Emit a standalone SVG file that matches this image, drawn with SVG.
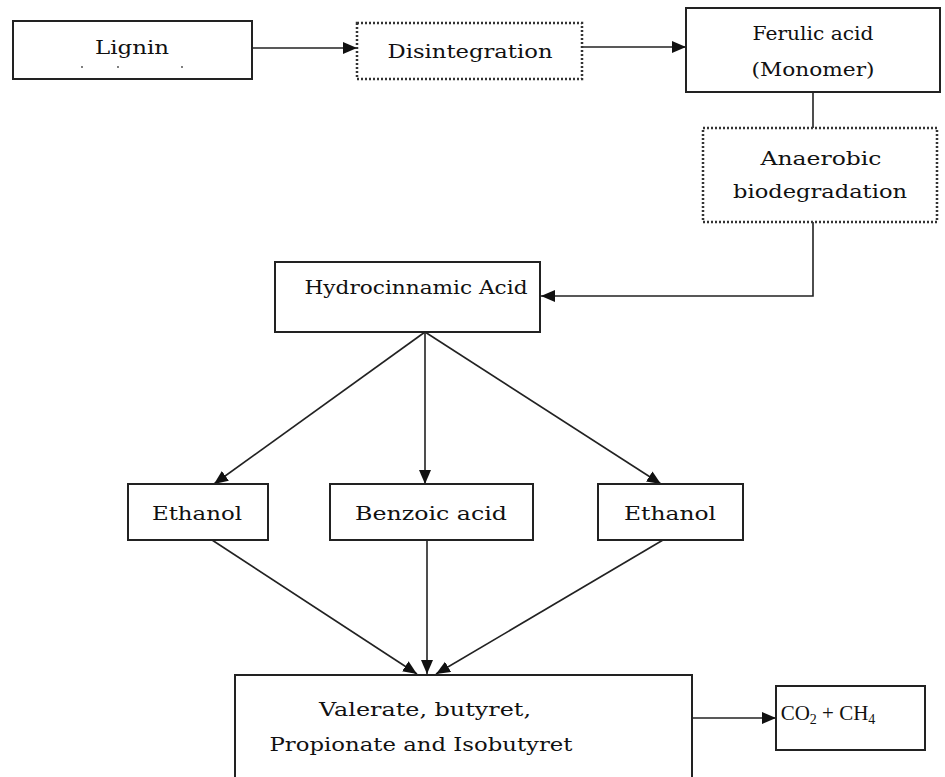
<svg xmlns="http://www.w3.org/2000/svg" width="945" height="777" viewBox="0 0 945 777">
<defs>
<marker id="ah" markerUnits="userSpaceOnUse" markerWidth="15" markerHeight="13" refX="14" refY="6" orient="auto">
<path d="M0,0 L14,6 L0,12 z" fill="#111"/>
</marker>
<style>
.box{fill:#fff;stroke:#222;stroke-width:2}
.dot{fill:#fff;stroke:#333;stroke-width:2.5;stroke-dasharray:2 2}
.t{font-family:"DejaVu Serif","Liberation Serif",serif;font-size:19px;fill:#111;text-anchor:middle}
.c{fill:none;stroke:#222;stroke-width:1.6}
</style>
</defs>
<rect width="945" height="777" fill="#fff"/>
<g id="connectors">
<line class="c" x1="252" y1="48" x2="357" y2="48" marker-end="url(#ah)"/>
<line class="c" x1="582" y1="47" x2="686" y2="47" marker-end="url(#ah)"/>
<line class="c" x1="813" y1="92" x2="813" y2="128"/>
<polyline class="c" points="813,222 813,296 541,296" marker-end="url(#ah)"/>
<line class="c" x1="425" y1="332" x2="214" y2="484" marker-end="url(#ah)"/>
<line class="c" x1="425" y1="332" x2="425" y2="484" marker-end="url(#ah)"/>
<line class="c" x1="425" y1="332" x2="661" y2="484" marker-end="url(#ah)"/>
<line class="c" x1="212" y1="540" x2="417" y2="674" marker-end="url(#ah)"/>
<line class="c" x1="427" y1="540" x2="427" y2="674" marker-end="url(#ah)"/>
<line class="c" x1="663" y1="540" x2="436" y2="674" marker-end="url(#ah)"/>
<line class="c" x1="692" y1="718" x2="776" y2="718" marker-end="url(#ah)"/>
</g>
<g id="lignin">
<rect class="box" x="13" y="21" width="239" height="58"/>
<text class="t" x="132" y="54" textLength="74" lengthAdjust="spacingAndGlyphs">Lignin</text>
<circle cx="82" cy="67" r="0.9" fill="#444"/>
<circle cx="118" cy="67" r="0.9" fill="#444"/>
<circle cx="182" cy="67" r="0.9" fill="#444"/>
</g>
<g id="disintegration">
<rect class="dot" x="357" y="23" width="225" height="56"/>
<text class="t" x="470" y="58" textLength="165" lengthAdjust="spacingAndGlyphs">Disintegration</text>
</g>
<g id="ferulic">
<rect class="box" x="686" y="8" width="254" height="84"/>
<text class="t" x="813" y="40" textLength="121" lengthAdjust="spacingAndGlyphs">Ferulic acid</text>
<text class="t" x="813" y="76" textLength="123" lengthAdjust="spacingAndGlyphs">(Monomer)</text>
</g>
<g id="anaerobic">
<rect class="dot" x="703" y="128" width="234" height="94"/>
<text class="t" x="821" y="165" textLength="121" lengthAdjust="spacingAndGlyphs">Anaerobic</text>
<text class="t" x="820" y="198" textLength="174" lengthAdjust="spacingAndGlyphs">biodegradation</text>
</g>
<g id="hydrocinnamic">
<rect class="box" x="275" y="262" width="265" height="70"/>
<text class="t" x="416" y="294" textLength="223" lengthAdjust="spacingAndGlyphs">Hydrocinnamic Acid</text>
</g>
<g id="ethanol-left">
<rect class="box" x="128" y="484" width="140" height="56"/>
<text class="t" x="197" y="520" textLength="90" lengthAdjust="spacingAndGlyphs">Ethanol</text>
</g>
<g id="benzoic">
<rect class="box" x="330" y="484" width="203" height="56"/>
<text class="t" x="431" y="520" textLength="152" lengthAdjust="spacingAndGlyphs">Benzoic acid</text>
</g>
<g id="ethanol-right">
<rect class="box" x="598" y="484" width="145" height="56"/>
<text class="t" x="670" y="520" textLength="92" lengthAdjust="spacingAndGlyphs">Ethanol</text>
</g>
<g id="valerate">
<rect class="box" x="235" y="675" width="457" height="110"/>
<text class="t" x="425" y="716" textLength="212" lengthAdjust="spacingAndGlyphs">Valerate, butyret,</text>
<text class="t" x="421" y="751" textLength="303" lengthAdjust="spacingAndGlyphs">Propionate and Isobutyret</text>
</g>
<g id="co2">
<rect class="box" x="776" y="686" width="149" height="64"/>
<text class="t" x="828" y="720" style="font-family:'Liberation Serif',serif;font-size:21px">CO<tspan font-size="14" baseline-shift="-4">2</tspan> + CH<tspan font-size="14" baseline-shift="-4">4</tspan></text>
</g>
</svg>
